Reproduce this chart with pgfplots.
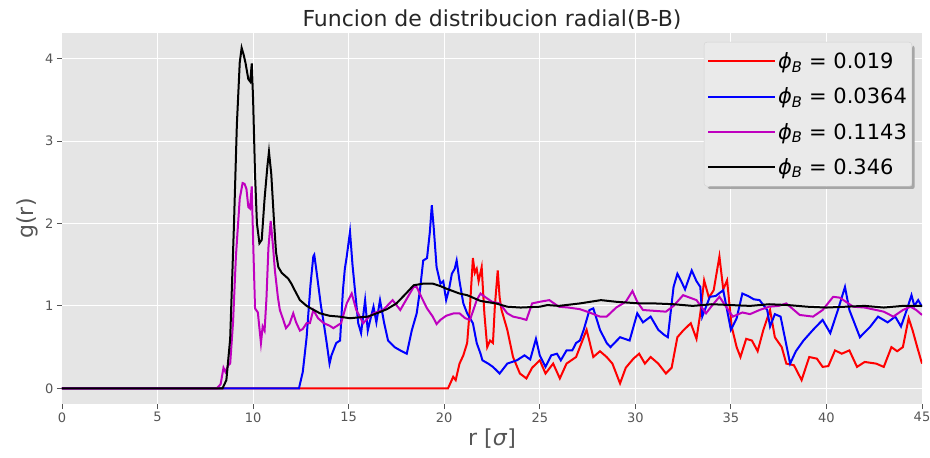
\documentclass[border=0pt]{standalone}
\usepackage{fontspec}
\setmainfont{DejaVu Sans}
\usepackage{pgfplots}
\pgfplotsset{compat=1.18}
\definecolor{bgray}{HTML}{E5E5E5}
\definecolor{tgray}{HTML}{555555}
\definecolor{mplm}{rgb}{0.75,0,0.75}
\begin{document}
\begin{tikzpicture}
\begin{axis}[
  scale only axis,
  width=860bp, height=371bp,
  xmin=0, xmax=45, ymin=-0.19, ymax=4.31,
  xtick={0,5,...,45}, ytick={0,1,2,3,4},
  axis background/.style={fill=bgray},
  axis line style={draw=none},
  grid=major,
  grid style={white, line width=1bp},
  tick pos=left,
  tick align=outside,
  major tick length=5bp,
  tick style={tgray, line width=0.8bp},
  /pgf/number format/assume math mode=true,
  ticklabel style={font=\fontsize{13bp}{15bp}\selectfont, text=tgray},
  title={Funcion de distribucion radial(B-B)},
  title style={font=\fontsize{22bp}{26bp}\selectfont, text=black!85, yshift=-6bp},
  xlabel={r [\textit{σ}]},
  ylabel={g(r)},
  label style={font=\fontsize{22bp}{26bp}\selectfont, text=tgray},
  legend cell align=left,
  legend style={name=leg, at={(0.9885,0.976)}, anchor=north east,
    fill=bgray!80!white, draw=black!18, rounded corners=3bp,
    font=\fontsize{21bp}{24bp}\selectfont, row sep=13.8bp, inner xsep=3bp, inner ysep=8.5bp},
  legend image code/.code={\draw[#1, fill=none, line width=2bp] (0bp,0bp) -- (48bp,0bp); \path (0bp,0bp) -- (67bp,0bp);},
  every axis plot/.append style={line width=2bp},
]
\addplot[draw=red] coordinates {
(0,0)(20.2,0)(20.47,0.14)(20.6,0.1)(20.8,0.3)(21.0,0.4)(21.2,0.55)(21.35,1.0)(21.5,1.58)(21.6,1.4)(21.7,1.45)(21.8,1.3)(21.96,1.47)(22.1,0.91)(22.25,0.5)(22.4,0.58)(22.55,0.55)(22.65,1.0)(22.8,1.43)(22.9,1.1)(23.0,0.95)(23.3,0.71)(23.6,0.38)(23.96,0.18)(24.3,0.12)(24.6,0.25)(25.0,0.34)(25.3,0.18)(25.7,0.3)(26.05,0.12)(26.4,0.3)(26.9,0.38)(27.45,0.71)(27.8,0.38)(28.15,0.45)(28.5,0.38)(28.8,0.3)(29.2,0.06)(29.5,0.25)(29.9,0.36)(30.2,0.42)(30.5,0.3)(30.8,0.38)(31.2,0.3)(31.6,0.18)(31.9,0.25)(32.2,0.62)(32.5,0.7)(32.9,0.79)(33.2,0.6)(33.4,0.91)(33.6,1.31)(33.85,1.1)(34.1,1.19)(34.4,1.6)(34.6,1.2)(34.8,1.31)(35.04,0.75)(35.3,0.5)(35.5,0.38)(35.8,0.6)(36.1,0.58)(36.4,0.45)(36.7,0.71)(37.05,0.95)(37.3,0.62)(37.66,0.5)(37.9,0.3)(38.3,0.28)(38.7,0.1)(39.1,0.38)(39.5,0.36)(39.8,0.26)(40.1,0.27)(40.45,0.46)(40.8,0.42)(41.2,0.46)(41.6,0.26)(42.0,0.32)(42.6,0.3)(43.0,0.26)(43.4,0.5)(43.7,0.45)(44.0,0.5)(44.3,0.85)(44.5,0.71)(44.75,0.5)(45.0,0.3)
};
\addlegendentry{\textit{ϕ}\textsubscript{\textit{B}} = 0.019}
\addplot[draw=blue] coordinates {
(0,0)(12.4,0)(12.6,0.2)(12.8,0.62)(13.0,1.25)(13.15,1.6)(13.2,1.62)(13.3,1.45)(13.4,1.27)(13.55,1.0)(13.67,0.83)(13.85,0.55)(14.0,0.3)(14.1,0.4)(14.2,0.46)(14.35,0.55)(14.55,0.58)(14.7,1.19)(14.8,1.45)(14.9,1.6)(15.07,1.9)(15.2,1.5)(15.33,1.19)(15.5,0.79)(15.65,0.67)(15.86,1.07)(16.0,0.7)(16.15,0.85)(16.3,0.99)(16.45,0.8)(16.64,1.07)(16.85,0.8)(17.06,0.58)(17.4,0.5)(17.7,0.46)(18.04,0.42)(18.3,0.7)(18.56,0.91)(18.73,1.19)(18.9,1.55)(19.1,1.58)(19.25,1.9)(19.35,2.22)(19.45,1.95)(19.6,1.47)(19.8,1.27)(19.95,1.3)(20.1,1.07)(20.25,1.2)(20.4,1.39)(20.55,1.45)(20.65,1.55)(20.8,1.3)(21.0,1.03)(21.2,0.91)(21.5,0.79)(21.7,0.55)(21.9,0.42)(22.0,0.34)(22.3,0.3)(22.55,0.26)(22.9,0.18)(23.3,0.3)(23.8,0.34)(24.2,0.4)(24.5,0.35)(24.8,0.6)(25.0,0.4)(25.3,0.26)(25.6,0.4)(25.9,0.42)(26.1,0.34)(26.4,0.46)(26.7,0.46)(26.9,0.55)(27.1,0.58)(27.3,0.71)(27.6,0.95)(27.8,0.97)(28.15,0.71)(28.5,0.55)(28.7,0.5)(29.2,0.62)(29.7,0.58)(30.1,0.91)(30.4,0.8)(30.8,0.87)(31.2,0.71)(31.5,0.65)(31.7,0.62)(32.0,1.23)(32.2,1.39)(32.4,1.3)(32.6,1.2)(32.95,1.43)(33.2,1.3)(33.4,1.23)(33.5,0.87)(33.9,1.11)(34.2,1.12)(34.6,1.19)(35.0,0.71)(35.3,0.85)(35.6,1.15)(35.9,1.12)(36.2,1.08)(36.5,1.07)(36.9,0.95)(37.05,0.75)(37.3,0.9)(37.6,0.87)(38.1,0.3)(38.4,0.45)(38.8,0.58)(39.3,0.71)(39.8,0.83)(40.2,0.67)(40.6,0.95)(40.97,1.23)(41.2,0.95)(41.75,0.62)(42.3,0.75)(42.7,0.87)(43.2,0.8)(43.6,0.87)(43.9,0.75)(44.2,0.95)(44.45,1.13)(44.6,1.0)(44.8,1.07)(45.0,0.99)
};
\addlegendentry{\textit{ϕ}\textsubscript{\textit{B}} = 0.0364}
\addplot[draw=mplm] coordinates {
(0,0)(8.1,0)(8.3,0.05)(8.45,0.25)(8.55,0.2)(8.7,0.28)(8.8,0.3)(8.95,0.8)(9.1,1.6)(9.3,2.3)(9.45,2.49)(9.55,2.48)(9.65,2.42)(9.75,2.2)(9.84,2.18)(9.93,2.45)(10.0,1.8)(10.1,0.97)(10.25,0.92)(10.3,0.8)(10.41,0.55)(10.5,0.75)(10.6,0.7)(10.7,1.1)(10.8,1.7)(10.92,2.03)(11.05,1.7)(11.14,1.43)(11.3,1.1)(11.4,0.95)(11.55,0.85)(11.72,0.73)(11.9,0.78)(12.1,0.91)(12.25,0.8)(12.45,0.7)(12.6,0.72)(12.8,0.79)(12.97,0.79)(13.15,0.95)(13.4,0.85)(13.7,0.79)(14.0,0.76)(14.2,0.73)(14.6,0.79)(14.9,1.03)(15.16,1.15)(15.4,0.95)(15.76,0.79)(16.0,0.85)(16.3,0.91)(16.8,0.95)(17.3,1.07)(17.7,0.95)(18.0,1.07)(18.4,1.23)(18.56,1.23)(18.8,1.11)(19.1,0.97)(19.4,0.87)(19.6,0.78)(19.8,0.83)(20.1,0.88)(20.5,0.91)(20.8,0.91)(21.1,0.85)(21.35,0.83)(21.7,1.07)(21.9,1.15)(22.0,1.13)(22.5,1.05)(22.9,1.03)(23.3,0.91)(23.6,0.87)(24.0,0.85)(24.3,0.83)(24.6,1.03)(25.0,1.05)(25.5,1.07)(26.0,0.99)(26.5,0.98)(27.1,0.96)(27.6,0.92)(28.15,0.87)(28.5,0.87)(29.0,0.98)(29.5,1.05)(29.85,1.18)(30.1,1.05)(30.4,0.95)(31.0,0.94)(31.6,0.93)(32.0,1.0)(32.5,1.13)(33.2,1.07)(33.7,0.91)(34.0,1.0)(34.4,1.11)(35.1,0.87)(35.6,0.92)(36.0,0.9)(36.5,0.95)(37.0,0.99)(37.5,1.0)(37.9,1.03)(38.6,0.89)(39.3,0.87)(39.8,0.95)(40.35,1.11)(40.7,1.1)(41.4,0.99)(42.0,0.98)(42.6,0.95)(43.0,0.93)(43.5,0.87)(44.0,0.95)(44.4,0.99)(44.7,0.95)(45.0,0.89)
};
\addlegendentry{\textit{ϕ}\textsubscript{\textit{B}} = 0.1143}
\addplot[draw=black] coordinates {
(0,0)(8.4,0)(8.6,0.1)(8.8,0.6)(9.0,2.0)(9.15,3.2)(9.3,3.95)(9.4,4.13)(9.5,4.05)(9.6,3.95)(9.75,3.75)(9.85,3.72)(9.93,3.94)(10.0,3.5)(10.1,2.6)(10.2,2.0)(10.33,1.76)(10.45,1.8)(10.6,2.3)(10.75,2.7)(10.83,2.87)(10.95,2.6)(11.1,2.0)(11.2,1.65)(11.32,1.47)(11.5,1.4)(11.84,1.33)(12.0,1.27)(12.2,1.18)(12.45,1.07)(12.8,1.0)(13.1,0.96)(13.5,0.91)(14.0,0.88)(14.5,0.87)(15.07,0.85)(15.5,0.86)(16.0,0.87)(16.47,0.91)(17.0,0.96)(17.5,1.03)(18.0,1.15)(18.4,1.25)(18.9,1.27)(19.4,1.27)(19.8,1.24)(20.1,1.21)(20.8,1.15)(21.2,1.13)(21.9,1.06)(22.7,1.03)(23.3,0.99)(24.0,0.98)(25.0,0.99)(25.4,1.01)(26.0,1.0)(27.1,1.03)(28.2,1.07)(29.0,1.05)(30.2,1.03)(31.0,1.03)(32.0,1.02)(33.0,1.0)(34.0,1.02)(35.0,1.01)(36.0,1.0)(37.0,1.02)(38.0,1.01)(39.0,0.99)(40.0,0.98)(41.0,0.99)(42.0,1.0)(43.0,0.98)(44.0,1.0)(45.0,1.0)
};
\addlegendentry{\textit{ϕ}\textsubscript{\textit{B}} = 0.346}
\end{axis}
\fill[black!35, rounded corners=2bp] ([shift={(4bp,0bp)}]leg.south west) -- ([shift={(4bp,-2.5bp)}]leg.south west) -- ([shift={(2.5bp,-2.5bp)}]leg.south east) -- ([shift={(2.5bp,-4bp)}]leg.north east) -- ([shift={(0bp,-4bp)}]leg.north east) -- (leg.south east) -- cycle;
\pgfresetboundingbox
\path ([shift={(-62bp,-54bp)}]current axis.south west) rectangle ([shift={(8bp,33bp)}]current axis.north east);
\end{tikzpicture}
\end{document}
